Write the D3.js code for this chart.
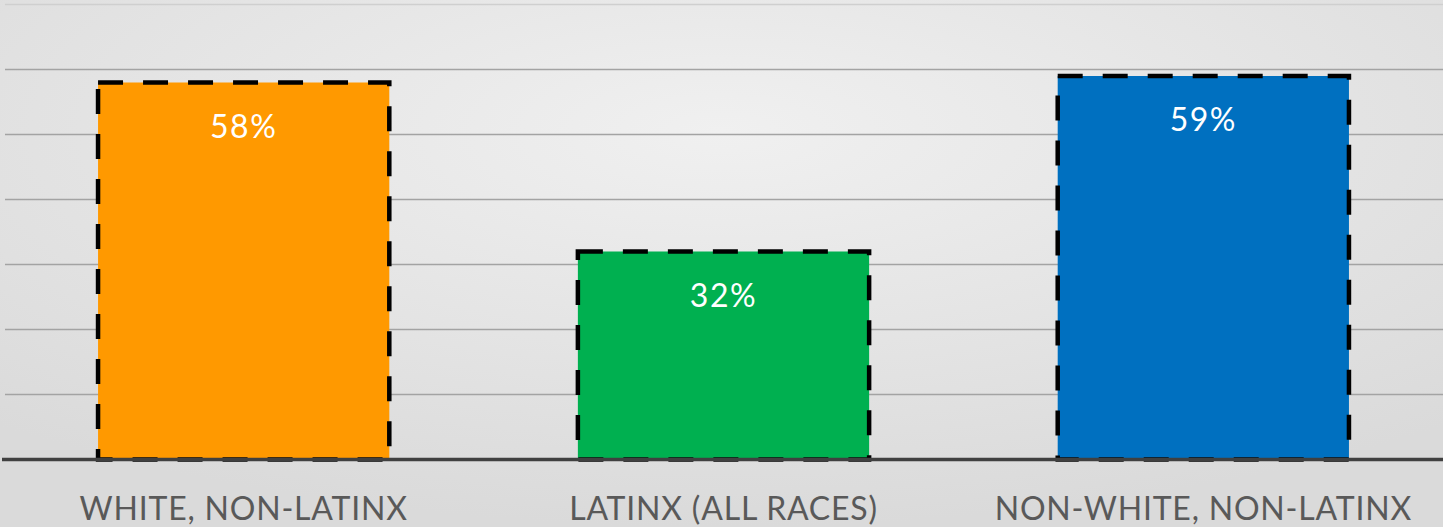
<!DOCTYPE html>
<html><head><meta charset="utf-8">
<script src="https://cdn.jsdelivr.net/npm/d3@7"></script>
<style>html,body{margin:0;padding:0;overflow:hidden;background:#e4e4e4}</style>
</head><body>
<script>
const categories = ["WHITE, NON-LATINX", "LATINX (ALL RACES)", "NON-WHITE, NON-LATINX"];
const values = [58, 32, 59];
const colors = ["#ff9900", "#00b050", "#0070c0"];
const gridTicks = [10, 20, 30, 40, 50, 60, 70];

const W = 1443, H = 527;
const svg = d3.select("body").append("svg").attr("width", W).attr("height", H);
const defs = svg.append("defs");
const g = defs.append("radialGradient").attr("id","bg").attr("cx","50%").attr("cy","25%").attr("r","75%");
g.append("stop").attr("offset","0%").attr("stop-color","#f0f0f0");
g.append("stop").attr("offset","100%").attr("stop-color","#dadada");
svg.append("rect").attr("width",W).attr("height",H).attr("fill","url(#bg)");

const x = d3.scaleBand().domain(categories).range([4, 1443]).paddingInner(0.393).paddingOuter(0.196);
const y = d3.scaleLinear().domain([0, 70]).range([459.5, 4.5]);

svg.append("g").selectAll("line").data(gridTicks).join("line")
  .attr("x1", 5).attr("x2", W).attr("y1", d => y(d)).attr("y2", d => y(d))
  .attr("stroke", d => d === 70 ? "#cfcfcf" : "#a3a3a3").attr("stroke-width", 1.6);

svg.append("g").selectAll("rect").data(values).join("rect")
  .attr("x", (d,i) => x(categories[i])).attr("width", x.bandwidth())
  .attr("y", d => y(d)).attr("height", d => y(0) - y(d))
  .attr("fill", (d,i) => colors[i])
  .attr("stroke", "#000").attr("stroke-width", 4.5).attr("stroke-dasharray", "25,20");

svg.append("line").attr("x1", 2).attr("x2", W).attr("y1", y(0)).attr("y2", y(0))
  .attr("stroke", "#404040").attr("stroke-width", 3.5);

svg.append("g").selectAll("text").data(values).join("text")
  .attr("x", (d,i) => x(categories[i]) + x.bandwidth()/2)
  .attr("y", d => y(d) + 55)
  .attr("text-anchor", "middle").attr("fill", "#fff")
  .attr("font-family", "Lato, sans-serif").attr("font-size", 32).attr("letter-spacing", 1.5)
  .text(d => d + "%");

svg.append("g").selectAll("text").data(categories).join("text")
  .attr("x", d => x(d) + x.bandwidth()/2)
  .attr("y", 520)
  .attr("text-anchor", "middle").attr("fill", "#595959")
  .attr("font-family", "Lato, sans-serif").attr("font-size", 32).attr("letter-spacing", 0.8)
  .text(d => d);
</script>
</body></html>
